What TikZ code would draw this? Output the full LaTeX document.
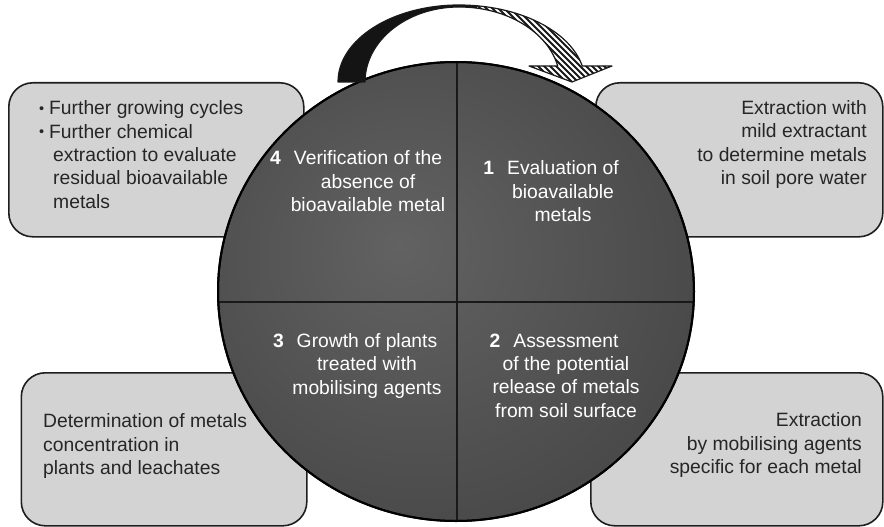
\documentclass[tikz,border=0pt]{standalone}
\usepackage{fontspec}
\setmainfont{Liberation Sans}
\usetikzlibrary{shapes.geometric}

\definecolor{boxfill}{RGB}{211,211,211}
\definecolor{boxline}{RGB}{30,30,30}
\definecolor{wheeledge}{RGB}{58,58,58}
\definecolor{wheelmid}{RGB}{98,98,98}

\pgfdeclareradialshading{wheelglow}{\pgfpoint{-6bp}{5bp}}{%
  color(0bp)=(wheelmid); color(48bp)=(wheeledge); color(70bp)=(wheeledge)}

\tikzset{
  infobox/.style={draw=boxline, fill=boxfill, line width=1.6pt,
    rounded corners=24pt, inner sep=0pt, anchor=north west},
  txt/.style={font=\fontsize{19.3}{23.3}\selectfont, inner sep=0pt, text=black!85},
  wtxt/.style={txt, text=white, align=center, anchor=base},
  divider/.style={line width=2.2pt, black!90},
}

% curved arrow running over the top of the wheel
\def\toparrow{(338,82)
  arc[start angle=180,end angle=270,x radius=121,y radius=77]
  arc[start angle=270,end angle=348,x radius=126,y radius=77]
  -- (612,66) -- (572,82) -- (529,66) -- (557.7,66)
  arc[start angle=347.7,end angle=270,x radius=101,y radius=75]
  arc[start angle=270,end angle=180,x radius=94,y radius=75] -- cycle}

\newcommand\stepnum[1]{\llap{\textbf{#1}\hspace{13pt}}}
\newcommand\itemdot{\llap{\raisebox{0.12ex}{\scalebox{0.75}{\textbullet}}\hspace{5pt}}}

\begin{document}
\begin{tikzpicture}[x=1pt,y=-1pt]
\useasboundingbox (0,0) rectangle (884,527);

% side boxes
\node[infobox, minimum width=295pt, minimum height=154pt] (tlbox) at (8,82) {};
\node[infobox, minimum width=287pt, minimum height=154pt] (trbox) at (595,82) {};
\node[infobox, minimum width=285.5pt, minimum height=153pt] (blbox) at (20.5,372) {};
\node[infobox, minimum width=292pt, minimum height=153pt] (brbox) at (590,372) {};

% the wheel with its four quadrants
\node[ellipse, minimum width=476pt, minimum height=459pt, inner sep=0pt,
      shading=wheelglow, draw=black, line width=2pt] (wheel) at (456,291.5) {};
\begin{scope}
  \clip (456,291.5) ellipse [x radius=238, y radius=229.5];
  \draw[divider] (200,302) -- (720,302);
  \draw[divider] (457,50) -- (457,540);
\end{scope}
\draw[black, line width=2pt] (456,291.5) ellipse [x radius=238, y radius=229.5];

% top arrow: solid part, then hatched part
\begin{scope}
  \clip (300,0) rectangle (477,100);
  \fill[black!92] \toparrow;
\end{scope}
\begin{scope}
  \clip \toparrow;
  \clip (477,0) rectangle (620,100);
  \fill[white] (477,0) rectangle (620,100);
  \foreach \k in {0,...,50}
    \draw[line width=2pt, black!90] ({330+6*\k},-10) -- ++(140,140);
\end{scope}
\draw[line width=1.2pt, black!90, line join=round] \toparrow;

% box texts (anchored at the baseline of the last line)
\node[txt, align=left, anchor=base west] (tltext) at (49,208)
  {\itemdot Further growing cycles\\
   \itemdot Further chemical\\
   \hspace*{4pt}extraction to evaluate\\
   \hspace*{4pt}residual bioavailable\\
   \hspace*{4pt}metals};
\node[txt, align=right, anchor=base east] (trtext) at (867,184.5)
  {Extraction with\\mild extractant\\to determine metals\\in soil pore water};
\node[txt, align=left, anchor=base west] (bltext) at (43,474.5)
  {Determination of metals\\concentration in\\plants and leachates};
\node[txt, align=right, anchor=base east] (brtext) at (862,473.5)
  {Extraction\\by mobilising agents\\specific for each metal};

% quadrant texts
\node[wtxt] (q1) at (563,221.5)
  {\stepnum{1}Evaluation of\\bioavailable\\metals};
\node[wtxt] (q2) at (566,417)
  {\stepnum{2}Assessment\\of the potential\\release of metals\\from soil surface};
\node[wtxt] (q3) at (367,394)
  {\stepnum{3}Growth of plants\\treated with\\mobilising agents};
\node[wtxt] (q4) at (368,211.5)
  {\stepnum{4}Verification of the\\absence of\\bioavailable metal};
\end{tikzpicture}
\end{document}
